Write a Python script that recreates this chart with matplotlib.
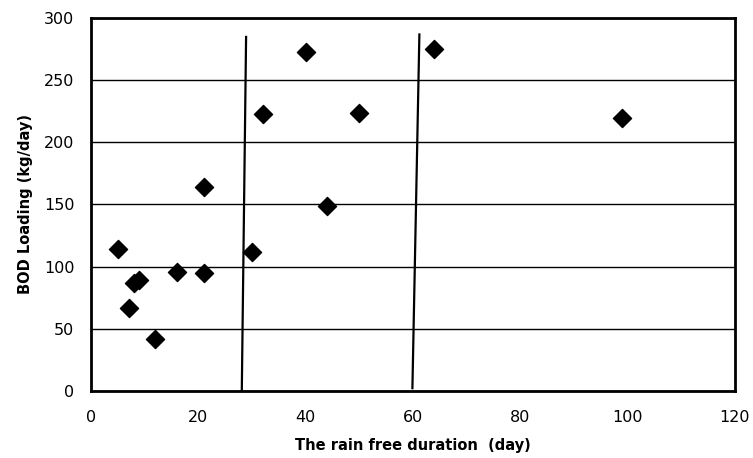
import numpy as np
import matplotlib
matplotlib.use("Agg")
import matplotlib.pyplot as plt

# data
rain_free_days = [5, 7, 8, 9, 12, 16, 21, 21, 30, 32, 40, 44, 50, 64, 99]
bod_loading = [114, 67, 87, 89, 42, 96, 95, 164, 112, 223, 273, 149, 224, 275, 220]

# the two hand-drawn dividing lines (x at bottom/top, y at bottom/top)
line1_x = [28.1, 28.9]
line1_y = [0, 285]
line2_x = [59.9, 61.2]
line2_y = [2, 287]

x_ticks = [0, 20, 40, 60, 80, 100, 120]
y_ticks = [0, 50, 100, 150, 200, 250, 300]

fig = plt.figure(figsize=(7.53, 4.58), dpi=100)
ax = fig.add_axes([0.1209, 0.147, 0.855, 0.813])

ax.scatter(rain_free_days, bod_loading, marker="D", s=85, color="black", zorder=3)
ax.plot(line1_x, line1_y, color="black", lw=1.6, zorder=2)
ax.plot(line2_x, line2_y, color="black", lw=1.6, zorder=2)

ax.set_xlim(0, 120)
ax.set_ylim(0, 300)
ax.set_xticks(x_ticks)
ax.set_yticks(y_ticks)
ax.yaxis.grid(True, color="black", lw=1.0)
ax.set_axisbelow(True)
ax.tick_params(length=0, labelsize=11.5, pad=12)
ax.tick_params(axis="x", pad=14)
for s in ax.spines.values():
    s.set_linewidth(2.0)

ax.set_xlabel("The rain free duration  (day)", fontsize=10.5, fontweight="bold", labelpad=9)
ax.set_ylabel("BOD Loading (kg/day)", fontsize=10.5, fontweight="bold", labelpad=8)

fig.savefig("out.png", dpi=100)
